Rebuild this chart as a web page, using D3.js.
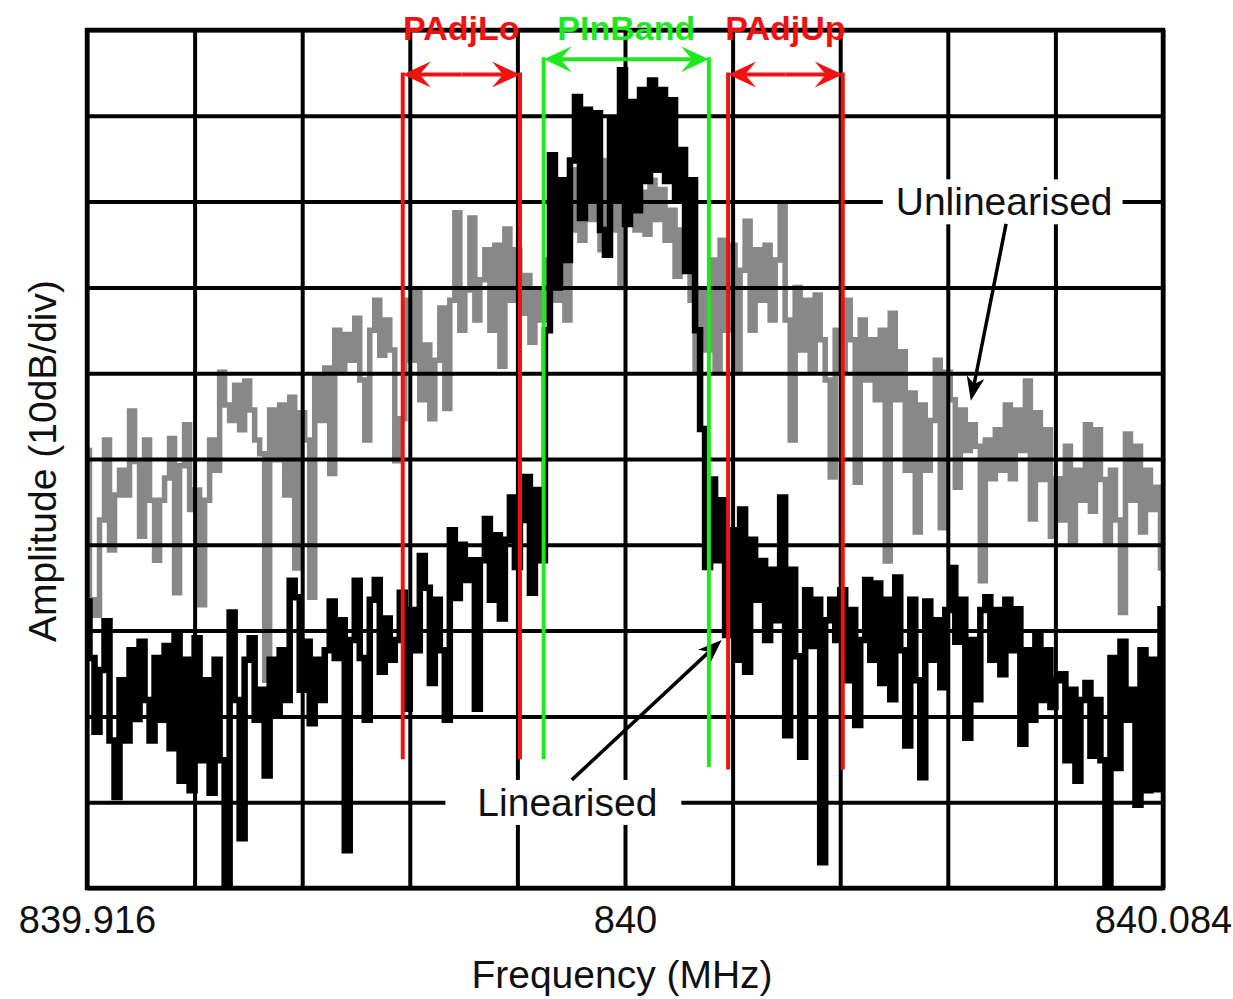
<!DOCTYPE html>
<html>
<head>
<meta charset="utf-8">
<script src="https://cdn.jsdelivr.net/npm/d3@7"></script>
<style>
body { margin: 0; background: #fff; }
text { font-family: "Liberation Sans", Arial, sans-serif; }
</style>
</head>
<body>
<script>
// sweep limits (MHz)
var startFreq = 839.916;
var stopFreq = 840.084;
var tickLabels = ["839.916", "840", "840.084"];
var tickLabelFreqs = [839.916, 840, 840.084];

// trace amplitudes in dB (10 dB/div, 0 dB = top of screen), one value per sweep bin
var unlinearised = [
  -49.0, -66.4, -68.2, -57.1, -47.8, -60.6, -54.2, -51.3, -54.2, -44.4,
  -50.3, -59.0, -47.8, -54.8, -61.8, -54.8, -52.2, -47.6, -65.6, -50.8,
  -46.0, -55.9, -53.6, -67.0, -54.8, -47.8, -51.3, -39.9, -43.7, -45.5,
  -41.4, -46.6, -40.9, -44.3, -47.8, -49.4, -75.8, -44.3, -50.1, -43.7,
  -54.2, -42.8, -62.7, -44.6, -47.8, -66.1, -40.4, -45.5, -39.4, -51.7,
  -35.0, -39.9, -35.5, -38.5, -33.6, -40.8, -47.8, -35.0, -31.5, -37.9,
  -33.8, -37.3, -50.2, -45.3, -31.5, -38.5, -30.5, -43.1, -36.7, -45.3,
  -38.5, -32.4, -44.1, -31.5, -21.3, -35.0, -30.3, -21.9, -33.8, -29.1,
  -25.6, -35.0, -25.1, -39.2, -23.2, -31.5, -25.6, -33.0, -28.6, -36.4,
  -30.3, -33.8, -26.8, -19.8, -31.5, -18.6, -33.8, -23.3, -16.3, -24.5,
  -14.0, -22.1, -17.5, -25.6, -15.2, -23.3, -18.6, -30.0, -19.8, -16.3,
  -23.3, -18.9, -23.8, -17.5, -22.1, -18.6, -24.5, -21.0, -28.7, -23.3,
  -28.0, -31.5, -39.7, -30.3, -37.3, -26.8, -39.7, -24.5, -35.0, -25.1,
  -39.7, -28.0, -22.3, -35.0, -25.6, -31.5, -25.1, -33.8, -26.8, -20.4,
  -33.8, -47.8, -30.0, -37.3, -31.5, -39.6, -30.9, -36.1, -40.8, -52.1,
  -35.0, -39.6, -31.5, -36.1, -52.7, -33.8, -40.8, -36.1, -43.1, -35.0,
  -61.9, -33.0, -43.1, -37.5, -51.3, -42.3, -58.5, -43.7, -51.3, -45.5,
  -38.5, -58.0, -39.9, -43.1, -53.3, -44.3, -49.0, -46.0, -48.5, -64.2,
  -47.8, -52.3, -46.6, -51.3, -43.7, -52.3, -44.3, -49.0, -40.9, -57.0,
  -44.6, -52.4, -46.6, -59.0, -52.3, -57.1, -48.5, -59.9, -51.3, -54.8,
  -46.0, -56.1, -46.6, -52.4, -59.9, -51.3, -57.1, -67.9, -47.1, -54.8,
  -48.5, -58.5, -51.3, -55.9, -53.3, -62.7
];

var linearised = [
  -66.6, -73.2, -81.8, -74.6, -68.9, -82.8, -89.4, -75.8, -82.8, -72.3,
  -80.3, -71.3, -78.1, -82.8, -73.2, -80.4, -71.8, -83.7, -70.4, -87.5,
  -73.4, -88.6, -70.9, -85.1, -75.8, -88.9, -73.4, -85.1, -99.5, -67.9,
  -78.1, -94.2, -73.4, -70.9, -80.4, -76.9, -86.9, -73.4, -79.8, -72.3,
  -78.1, -64.2, -66.1, -76.9, -71.3, -80.8, -73.4, -78.1, -72.3, -66.6,
  -73.2, -68.8, -95.6, -71.1, -64.2, -73.2, -80.4, -66.4, -64.1, -74.8,
  -68.6, -73.4, -71.1, -65.6, -79.1, -67.6, -72.3, -61.3, -65.0, -76.1,
  -66.4, -72.3, -80.4, -58.3, -66.2, -60.0, -64.1, -61.8, -79.1, -61.8,
  -57.0, -66.4, -58.9, -68.6, -59.4, -54.5, -62.6, -57.1, -52.1, -65.6,
  -53.6, -61.8, -35.0, -14.6, -30.0, -17.5, -26.8, -15.2, -7.8, -21.9,
  -9.3, -19.8, -9.7, -23.3, -26.2, -10.5, -19.8, -4.7, -22.6, -8.4,
  -21.0, -7.0, -17.6, -5.9, -16.3, -7.0, -17.6, -8.2, -19.8, -14.0,
  -28.1, -17.5, -35.0, -46.5, -62.6, -52.4, -61.8, -54.8, -70.5, -58.3,
  -73.4, -55.9, -74.8, -59.4, -66.4, -61.9, -71.1, -62.9, -68.8, -54.5,
  -82.2, -62.9, -73.0, -84.7, -65.3, -71.8, -66.4, -97.0, -68.8, -66.4,
  -71.1, -65.3, -75.8, -67.6, -81.0, -71.1, -64.1, -73.4, -64.5, -76.1,
  -66.4, -78.0, -63.8, -72.3, -83.4, -66.4, -75.8, -87.1, -66.6, -73.4,
  -68.8, -76.6, -67.6, -62.7, -71.3, -66.4, -82.5, -71.1, -78.0, -67.6,
  -66.1, -73.4, -67.6, -75.1, -66.4, -72.3, -67.5, -83.2, -72.3, -80.4,
  -70.4, -78.1, -72.3, -78.9, -75.8, -75.1, -85.1, -76.9, -87.5, -78.1,
  -76.1, -84.6, -78.1, -85.1, -99.5, -73.2, -86.0, -71.3, -80.4, -76.9,
  -90.3, -72.3, -88.6, -73.4, -88.5, -67.5
];

// measurement bands (MHz)
var bandNames = ["PAdjLo", "PInBand", "PAdjUp"];
var bandStart = [839.9653, 839.9873, 840.0161];
var bandStop = [839.9836, 840.0131, 840.0340];

// ----------------------------
// layout
// ----------------------------
var W = 1233, H = 999;
var margin = { top: 30, right: 70, bottom: 111, left: 87 };
var width = W - margin.left - margin.right;
var height = H - margin.top - margin.bottom;

var svg = d3.select("body").append("svg")
  .attr("width", W)
  .attr("height", H);

var g = svg.append("g")
  .attr("transform", "translate(" + margin.left + "," + margin.top + ")");

var x = d3.scaleLinear().domain([startFreq, stopFreq]).range([0, width]);
var y = d3.scaleLinear().domain([-100, 0]).range([height, 0]);

g.append("clipPath").attr("id", "plot-clip")
  .append("rect").attr("width", width).attr("height", height);

// ----------------------------
// traces
// ----------------------------
function traceLine(values) {
  var bin = d3.scaleLinear().domain([0, values.length - 1]).range([startFreq, stopFreq]);
  return d3.line()
    .x(function(d, i) { return x(bin(i)); })
    .y(function(d) { return y(d); })
    .curve(d3.curveStep)(values);
}

var traces = g.append("g").attr("clip-path", "url(#plot-clip)");

traces.append("path")
  .attr("d", traceLine(unlinearised))
  .attr("fill", "none")
  .attr("stroke", "#888")
  .attr("stroke-width", 5.5);

traces.append("path")
  .attr("d", traceLine(linearised))
  .attr("fill", "none")
  .attr("stroke", "#000")
  .attr("stroke-width", 6.5);

// ----------------------------
// graticule (10 x 10)
// ----------------------------
var gridFreqs = d3.range(11).map(function(k) { return startFreq + k * (stopFreq - startFreq) / 10; });
var gridLevels = d3.range(-100, 1, 10);

g.append("g")
  .attr("transform", "translate(0," + height + ")")
  .call(d3.axisBottom(x).tickValues(gridFreqs).tickSize(-height).tickFormat(""))
  .call(function(s) { s.select(".domain").remove(); })
  .selectAll("line").attr("stroke", "#000").attr("stroke-width", 4);

g.append("g")
  .call(d3.axisLeft(y).tickValues(gridLevels).tickSize(-width).tickFormat(""))
  .call(function(s) { s.select(".domain").remove(); })
  .selectAll("line").attr("stroke", "#000").attr("stroke-width", 4);

g.append("rect")
  .attr("width", width).attr("height", height)
  .attr("fill", "none").attr("stroke", "#000").attr("stroke-width", 4.5);

// ----------------------------
// axis labels
// ----------------------------
var labelAxis = g.append("g")
  .attr("transform", "translate(0," + height + ")")
  .call(d3.axisBottom(x).tickValues(tickLabelFreqs)
    .tickFormat(function(d, i) { return tickLabels[i]; })
    .tickSize(0).tickPadding(18));
labelAxis.select(".domain").remove();
labelAxis.selectAll("text")
  .attr("font-family", "Liberation Sans, Arial, sans-serif")
  .attr("font-size", 38)
  .attr("fill", "#111");

svg.append("text")
  .attr("x", 622).attr("y", 988)
  .attr("text-anchor", "middle")
  .attr("font-size", 39).attr("fill", "#111")
  .text("Frequency (MHz)");

svg.append("text")
  .attr("transform", "translate(56,461) rotate(-90)")
  .attr("text-anchor", "middle")
  .attr("font-size", 39).attr("fill", "#111")
  .text("Amplitude (10dB/div)");

// ----------------------------
// arrows helper
// ----------------------------
function arrowHead(tx, ty, ux, uy, len, half, notch) {
  var nx = -uy, ny = ux;
  return "M" + tx + "," + ty +
    "L" + (tx - ux * len + nx * half) + "," + (ty - uy * len + ny * half) +
    "L" + (tx - ux * notch) + "," + (ty - uy * notch) +
    "L" + (tx - ux * len - nx * half) + "," + (ty - uy * len - ny * half) + "Z";
}

function arrow(parent, x0, y0, x1, y1, color, sw, len, half, notch) {
  var dx = x1 - x0, dy = y1 - y0, d = Math.sqrt(dx * dx + dy * dy);
  var ux = dx / d, uy = dy / d;
  parent.append("line")
    .attr("x1", x0).attr("y1", y0)
    .attr("x2", x1 - ux * notch).attr("y2", y1 - uy * notch)
    .attr("stroke", color).attr("stroke-width", sw);
  parent.append("path")
    .attr("d", arrowHead(x1, y1, ux, uy, len, half, notch))
    .attr("fill", color);
}

// ----------------------------
// trace annotations
// ----------------------------
function note(label, freq, level, padL, padR) {
  var t = g.append("text")
    .attr("x", x(freq)).attr("y", y(level))
    .attr("text-anchor", "middle")
    .attr("font-size", 39).attr("fill", "#111")
    .text(label);
  var b = t.node().getBBox();
  g.insert("rect", function() { return t.node(); })
    .attr("x", b.x - padL).attr("y", b.y - 1)
    .attr("width", b.width + padL + padR).attr("height", b.height + 2)
    .attr("fill", "#fff");
}

note("Unlinearised", 840.0592, -21.6, 13, 10);
note("Linearised", 839.9910, -91.6, 32, 24);

var ann = g.append("g");
arrow(ann, x(840.0595), y(-22.6), x(840.0540), y(-43.2), "#000", 3.5, 24, 9, 17);
arrow(ann, x(839.9917), y(-87.4), x(840.0151), y(-71.1), "#000", 3.5, 24, 9, 17);

// ----------------------------
// measurement bands
// ----------------------------
var bandStyle = {
  PAdjLo: { color: "#f01212", arrowLevel: -5.2, bottom: [-85.0, -85.0] },
  PInBand: { color: "#1fe81f", arrowLevel: -3.4, bottom: [-85.0, -85.9] },
  PAdjUp: { color: "#f01212", arrowLevel: -5.2, bottom: [-86.2, -86.2] }
};

var bands = g.append("g");
bandNames.forEach(function(name, i) {
  var s = bandStyle[name];
  var x0 = x(bandStart[i]), x1 = x(bandStop[i]);
  var ya = y(s.arrowLevel);
  bands.append("line")
    .attr("x1", x0).attr("x2", x0).attr("y1", ya - 2).attr("y2", y(s.bottom[0]))
    .attr("stroke", s.color).attr("stroke-width", 4);
  bands.append("line")
    .attr("x1", x1).attr("x2", x1).attr("y1", ya - 2).attr("y2", y(s.bottom[1]))
    .attr("stroke", s.color).attr("stroke-width", 4);
  var mid = (x0 + x1) / 2;
  arrow(bands, mid, ya, x0, ya, s.color, 4, 28, 13, 17);
  arrow(bands, mid, ya, x1, ya, s.color, 4, 28, 13, 17);
  bands.append("text")
    .attr("x", mid).attr("y", y(-1.2))
    .attr("text-anchor", "middle")
    .attr("font-size", 34).attr("font-weight", "bold")
    .attr("fill", s.color)
    .text(name);
});
</script>
</body>
</html>
